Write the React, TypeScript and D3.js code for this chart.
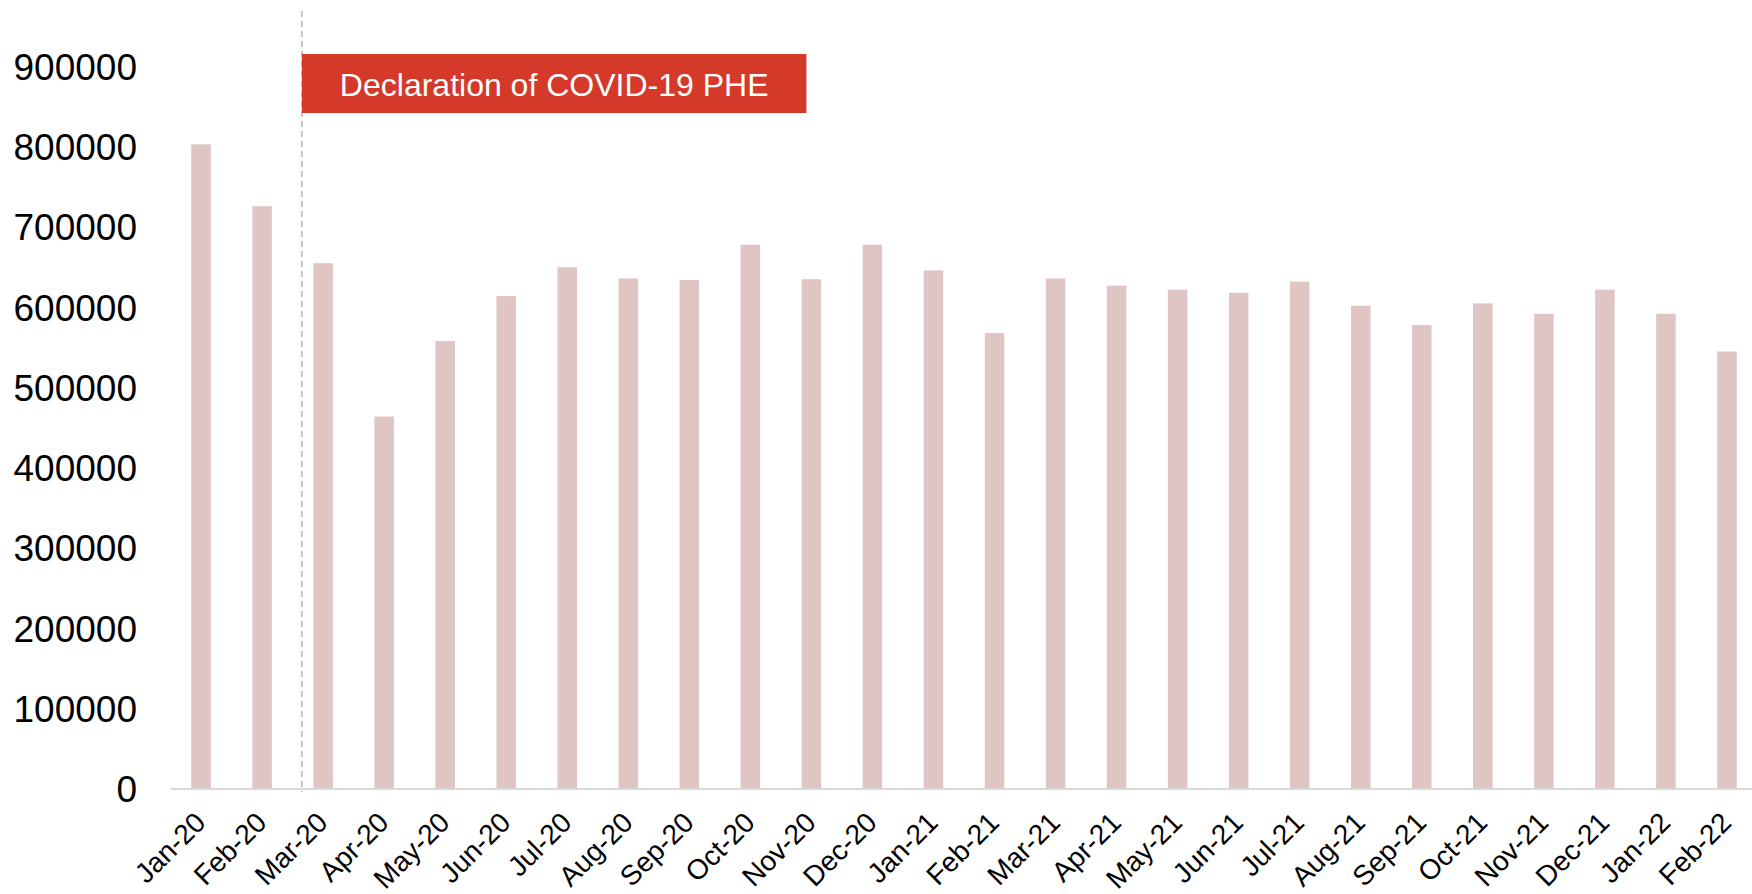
import React from "react";
import * as d3 from "d3";

const months: string[] = [
  "Jan-20", "Feb-20", "Mar-20", "Apr-20", "May-20", "Jun-20", "Jul-20", "Aug-20",
  "Sep-20", "Oct-20", "Nov-20", "Dec-20", "Jan-21", "Feb-21", "Mar-21", "Apr-21",
  "May-21", "Jun-21", "Jul-21", "Aug-21", "Sep-21", "Oct-21", "Nov-21", "Dec-21",
  "Jan-22", "Feb-22",
];

const values: number[] = [
  803000, 726000, 655000, 464000, 558000, 614000, 650000, 636000,
  634000, 678000, 635000, 678000, 646000, 568000, 636000, 627000,
  622000, 618000, 632000, 602000, 578000, 605000, 592000, 622000,
  592000, 545000,
];

const yTicks: number[] = [0, 100000, 200000, 300000, 400000, 500000, 600000, 700000, 800000, 900000];

const annotationText = "Declaration of COVID-19 PHE";
const annotationMonth = "Mar-20";

const W = 1752;
const H = 894;
const FONT = "'Liberation Sans', Arial, Helvetica, sans-serif";

export default function App() {
  const x = d3
    .scaleBand<string>()
    .domain(months)
    .range([170.5, 1757.5])
    .paddingInner(0.68)
    .paddingOuter(0.34);

  const y = d3.scaleLinear().domain([0, 900000]).range([789, 66.5]);

  const step = x.step();
  const bw = x.bandwidth();
  const dashX = (x(annotationMonth) as number) + bw / 2 - step * 0.347;
  const boxX = dashX;
  const boxW = 504.5;
  const boxY = 54;
  const boxH = 59;

  return (
    <svg
      width={W}
      height={H}
      style={{ position: "absolute", left: 0, top: 0, background: "#fff" }}
      fontFamily={FONT}
    >
      {/* bars */}
      {months.map((m, i) => (
        <rect
          key={m}
          x={x(m) as number}
          y={y(values[i])}
          width={bw}
          height={y(0) - y(values[i])}
          fill="#E0C5C5"
        />
      ))}

      {/* x axis line */}
      <line x1={170.5} x2={W} y1={y(0)} y2={y(0)} stroke="#D9D9D9" strokeWidth={2} />

      {/* y tick labels */}
      {yTicks.map((t) => (
        <text
          key={t}
          x={137}
          y={y(t)}
          dy="0.36em"
          textAnchor="end"
          fontSize={37}
          fill="#000"
        >
          {t}
        </text>
      ))}

      {/* x tick labels */}
      {months.map((m) => {
        const cx = (x(m) as number) + bw / 2 - 1;
        const cy = 817;
        return (
          <text
            key={m}
            transform={`translate(${cx},${cy}) rotate(-45)`}
            textAnchor="end"
            dy="0.36em"
            fontSize={28}
            fill="#000"
          >
            {m}
          </text>
        );
      })}

      {/* dashed declaration line */}
      <line
        x1={dashX}
        x2={dashX}
        y1={11}
        y2={792}
        stroke="#A6A6A6"
        strokeWidth={1.3}
        strokeDasharray="6,4"
      />

      {/* annotation box */}
      <rect x={boxX} y={boxY} width={boxW} height={boxH} fill="#D5392A" />
      <text
        x={boxX + boxW / 2}
        y={boxY + 42}
        textAnchor="middle"
        fontSize={32}
        fill="#fff"
      >
        {annotationText}
      </text>
    </svg>
  );
}
